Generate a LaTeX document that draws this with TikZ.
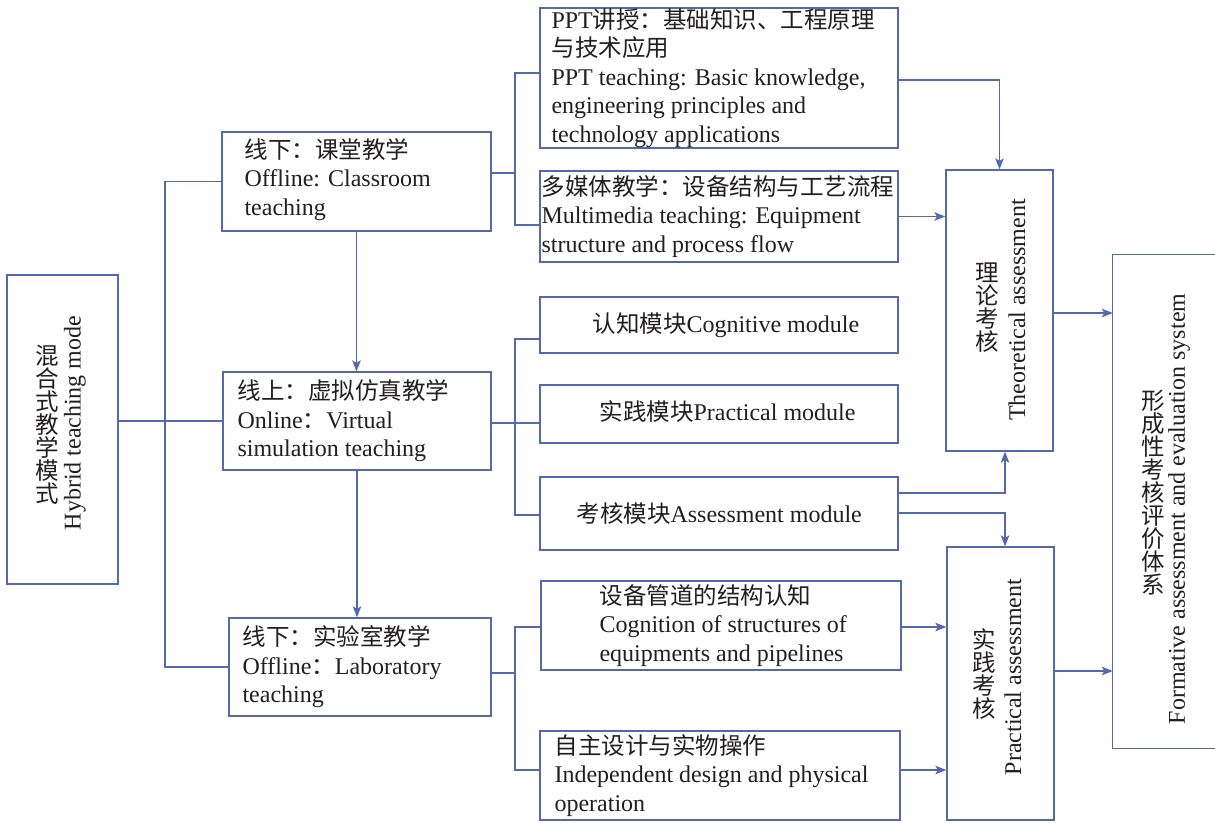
\documentclass[tikz,border=0pt]{standalone}
\usepackage{fontspec}
\setmainfont{Liberation Serif}
\newfontfamily\cjk{Noto Sans CJK SC}
\usetikzlibrary{arrows.meta,calc}
\definecolor{lc}{RGB}{84,104,176}
\definecolor{tc}{RGB}{35,31,32}
\newcommand\zh[1]{{\cjk\fontsize{23.5}{28.5}\selectfont #1}}
\tikzset{
  box/.style={draw=lc, line width=1.3pt, inner sep=0pt},
  txt/.style={text=tc, inner sep=0pt, align=left, font=\fontsize{24}{28.5}\selectfont},
  vzh/.style={text=tc, inner sep=0pt, align=center, font=\cjk\fontsize{23.5}{23}\selectfont},
  ven/.style={text=tc, inner sep=0pt, rotate=90, font=\fontsize{24}{28.5}\selectfont},
  conn/.style={draw=lc, line width=1.3pt},
  arr/.style={conn, -{Stealth[length=11pt,width=8.5pt,inset=2.5pt]}},
}
\begin{document}
\begin{tikzpicture}[x=1pt,y=-1pt]
\fill[white] (0,0) rectangle (1215,822);
\useasboundingbox (0,0) rectangle (1215,822);

% boxes
\node[box, minimum width=111, minimum height=309] (hyb) at (62.5,429.5) {};
\node[box, minimum width=269, minimum height=99] (class) at (356.5,181.5) {};
\node[box, minimum width=268, minimum height=98] (online) at (357,421) {};
\node[box, minimum width=262, minimum height=98] (lab) at (360,667) {};
\node[box, minimum width=358, minimum height=140] (ppt) at (719,78) {};
\node[box, minimum width=358, minimum height=91] (mm) at (719,216.5) {};
\node[box, minimum width=358, minimum height=56] (cog) at (719,325) {};
\node[box, minimum width=358, minimum height=58] (pm) at (719,414) {};
\node[box, minimum width=358, minimum height=73] (am) at (719,513.5) {};
\node[box, minimum width=360, minimum height=89] (struct) at (721,625.5) {};
\node[box, minimum width=360, minimum height=89] (indep) at (720,775.5) {};
\node[box, minimum width=107, minimum height=281] (theo) at (999.5,310.5) {};
\node[box, minimum width=107, minimum height=273] (prac) at (1000.5,683.5) {};
\node[inner sep=0pt, minimum width=102, minimum height=493] (form) at (1164,501.5) {};
\draw[conn] (form.north east) -- (form.north west) -- (form.south west) -- (form.south east);

% texts
\node[txt, anchor=west] (classT) at ($(class.west)+(23,-2)$) {\zh{线下：课堂教学}\\Offline: Classroom\\teaching};
\node[txt, anchor=west] (onlineT) at ($(online.west)+(15,0)$) {\zh{线上：虚拟仿真教学}\\Online\zh{：}Virtual\\simulation teaching};
\node[txt, anchor=west] (labT) at ($(lab.west)+(14,0)$) {\zh{线下：实验室教学}\\Offline\zh{：}Laboratory\\teaching};
\node[txt, anchor=west] (pptT) at ($(ppt.west)+(12,0)$) {PPT\zh{讲授：基础知识、工程原理}\\\zh{与技术应用}\\PPT teaching: Basic knowledge,\\engineering principles and\\technology applications};
\node[txt, anchor=west] (mmT) at ($(mm.west)+(2,0)$) {\zh{多媒体教学：设备结构与工艺流程}\\Multimedia teaching: Equipment\\structure and process flow};
\node[txt, anchor=west] (cogT) at ($(cog.west)+(53,0)$) {\zh{认知模块}Cognitive module};
\node[txt, anchor=west] (pmT) at ($(pm.west)+(60,-2)$) {\zh{实践模块}Practical module};
\node[txt, anchor=west] (amT) at ($(am.west)+(37,0)$) {\zh{考核模块}Assessment module};
\node[txt, anchor=west] (structT) at ($(struct.west)+(59,0)$) {\zh{设备管道的结构认知}\\Cognition of structures of\\equipments and pipelines};
\node[txt, anchor=west] (indepT) at ($(indep.west)+(15,0)$) {\zh{自主设计与实物操作}\\Independent design and physical\\operation};

\node[vzh] (hybZ) at (47,425) {混\\合\\式\\教\\学\\模\\式};
\node[ven] (hybE) at (75,423) {Hybrid teaching mode};
\node[vzh] (theoZ) at (987,307.5) {理\\论\\考\\核};
\node[ven] (theoE) at (1017,310) {Theoretical assessment};
\node[vzh] (pracZ) at (984,674) {实\\践\\考\\核};
\node[ven] (pracE) at (1013,677) {Practical assessment};
\node[vzh] (formZ) at (1153,493) {形\\成\\性\\考\\核\\评\\价\\体\\系};
\node[ven] (formE) at (1179,509) {Formative assessment and evaluation system};

% left bus
\draw[conn] (hyb.east |- online.west) -- (online.west);
\coordinate (bus) at (165,421);
\draw[conn] (bus) |- (class.west);
\draw[conn] (bus) |- (lab.west);
\draw[arr] (class.south) -- (class.south |- online.north);
\draw[arr] (online.south) -- (online.south |- lab.north);

% classroom branch
\coordinate (cb) at (515,173);
\draw[conn] ($(class.east)+(0,-8.5)$) -- (cb);
\draw[conn] (cb) |- ($(ppt.west)+(0,-5)$);
\draw[conn] (cb) |- ($(mm.west)+(0,8.5)$);

% online branch
\coordinate (ob) at (515,423);
\draw[conn] ($(online.east)+(0,2)$) -- (ob);
\draw[conn] (ob) |- ($(cog.west)+(0,14)$);
\draw[conn] (ob) -- ($(pm.west)+(0,9)$);
\draw[conn] (ob) |- ($(am.west)+(0,1.5)$);

% lab branch
\coordinate (lb) at (515,673);
\draw[conn] ($(lab.east)+(0,6)$) -- (lb);
\draw[conn] (lb) |- ($(struct.west)+(0,1.5)$);
\draw[conn] (lb) |- ($(indep.west)+(0,-5.5)$);

% right arrows
\draw[arr] ($(ppt.east)+(0,2)$) -| (theo.north);
\path (mm.east) coordinate (m1);
\draw[arr] (m1) -- (m1 -| theo.west);
\path ($(theo.east)+(0,2.5)$) coordinate (t1);
\draw[arr] (t1) -- (t1 -| form.west);
\draw[arr] ($(am.east)+(0,-20.5)$) -| ($(theo.south)+(5.5,0)$);
\draw[arr] ($(am.east)+(0,-0.5)$) -| ($(prac.north)+(4.5,0)$);
\path ($(struct.east)+(0,1.5)$) coordinate (s1);
\draw[arr] (s1) -- (s1 -| prac.west);
\path ($(indep.east)+(0,-5.5)$) coordinate (i1);
\draw[arr] (i1) -- (i1 -| prac.west);
\path ($(prac.east)+(0,-12.5)$) coordinate (p1);
\draw[arr] (p1) -- (p1 -| form.west);
\end{tikzpicture}
\end{document}
